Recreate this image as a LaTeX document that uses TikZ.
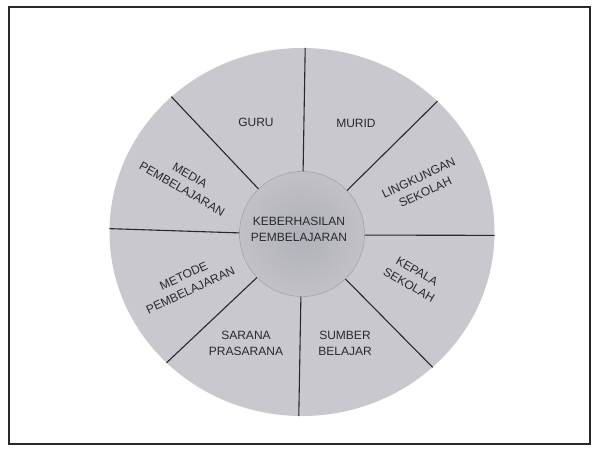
\documentclass[tikz,border=0pt]{standalone}
\usepackage{fontspec}
\setmainfont{Liberation Sans}
\usetikzlibrary{shapes.geometric}
\definecolor{wheelgray}{RGB}{200,200,206}
\definecolor{hubgray}{RGB}{176,176,184}
\definecolor{inkgray}{RGB}{40,40,48}

\begin{document}
\begin{tikzpicture}[
        x=1pt, y=1pt,
        spoke/.style={draw=inkgray, line width=1.1pt},
        sector/.style={align=center, text=inkgray, font=\fontsize{12}{16}\selectfont},
        every node/.style={inner sep=0pt}
        ]
        \useasboundingbox (-302,-218) rectangle (292,232);
        \draw[line width=1.2pt, inkgray] (-293,-212) rectangle (288,225);
        \node[ellipse, minimum width=385pt, minimum height=368pt, fill=wheelgray] (rim) at (0,0) {};
        \node[circle, minimum size=125pt, draw=gray!80, inner color=hubgray, outer color=wheelgray!90!gray] (hub) at (0,-2) {};
        \foreach \a in {-1,44,...,314} {
            \draw[spoke] (hub.\a) -- (rim.\a);
        }
        \node[sector] (hubtext) at (-3,3) {KEBERHASILAN\\PEMBELAJARAN};
        \node[sector] (guru) at (-46,110) {GURU};
        \node[sector] (murid) at (54,109) {MURID};
        \node[sector, rotate=-30] (media) at (-116,50) {MEDIA\\PEMBELAJARAN};
        \node[sector, rotate=25] (lingkungan) at (120,47) {LINGKUNGAN\\SEKOLAH};
        \node[sector, rotate=25] (metode) at (-115,-51) {METODE\\PEMBELAJARAN};
        \node[sector, rotate=-30] (kepala) at (111,-46) {KEPALA\\SEKOLAH};
        \node[sector] (sarana) at (-56,-111) {SARANA\\PRASARANA};
        \node[sector] (sumber) at (43,-111) {SUMBER\\BELAJAR};
    \end{tikzpicture}
\end{document}
